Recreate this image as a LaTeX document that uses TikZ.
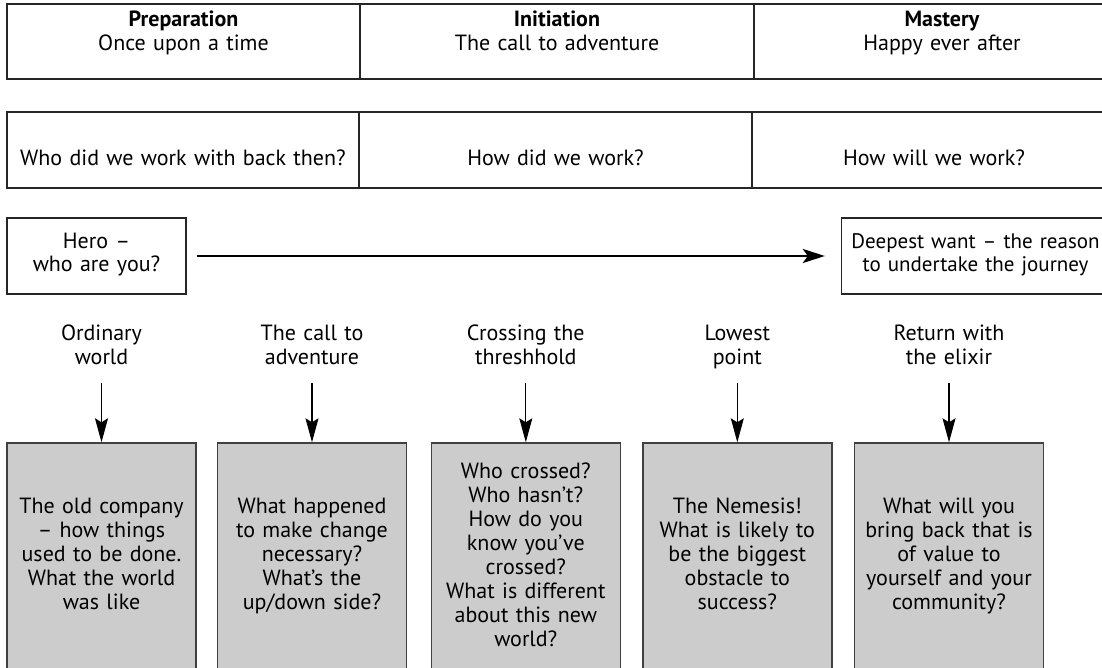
\documentclass[tikz,border=0pt]{standalone}
\usepackage{fontspec}
\setmainfont{PT Sans}
\usetikzlibrary{arrows.meta}

\tikzset{
  every node/.style={font=\fontsize{22}{24}\selectfont, align=center, anchor=base, inner ysep=0pt},
  cell/.style={draw=black!85, line width=1.3pt, inner xsep=6pt},
  stage/.style={draw=black!75, line width=1.4pt, fill=black!20, inner xsep=0pt, text width=189pt},
  step label/.style={inner xsep=0pt, text width=200pt, text depth=43pt},
  journey/.style={line width=2.8pt, -{Stealth[length=22pt,width=14pt,inset=5pt]},
    shorten <=10pt, shorten >=16pt},
  drop/.style={line width=1.1pt, -{Stealth[length=24pt,width=13pt,inset=4pt]}}
}

\begin{document}
\begin{tikzpicture}[x=1pt,y=1pt]
  \useasboundingbox (0,0) rectangle (1102,-668);
  \clip (0,0) rectangle (1102,-668);

  \node[cell, text width=341pt, text height=22.5pt, text depth=52.5pt] (prep) at (183.5,-26.5)
    {\textbf{Preparation}\\Once upon a time};
  \node[cell, text width=382pt, text height=22.5pt, text depth=52.5pt] (init) at (557,-26.5)
    {\textbf{Initiation}\\The call to adventure};
  \node[cell, text width=364pt, text height=22.5pt, text depth=52.5pt] (mast) at (942,-26.5)
    {\textbf{Mastery}\\Happy ever after};

  \node[cell, text width=340pt, text height=54pt, text depth=22pt] (then) at (183,-166)
    {Who did we work with back then?};
  \node[cell, text width=381pt, text height=54pt, text depth=22pt] (how) at (555.5,-166)
    {How did we work?};
  \node[cell, text width=352pt, text height=54pt, text depth=22pt] (will) at (934,-166)
    {How will we work?};

  \node[cell, text width=167pt, text height=30pt, text depth=46pt] (hero) at (96.5,-248)
    {Hero –\\who are you?};
  \node[cell, font=\fontsize{21}{24}\selectfont, inner xsep=3pt, text width=262pt,
    text height=30pt, text depth=46pt] (want) at (975.5,-248)
    {Deepest want – the reason\\to undertake the journey};
  \draw[journey] (hero) -- (want);

  \node[step label] (ordinary) at (101.5,-340) {Ordinary\\world};
  \node[step label] (call) at (312,-340) {The call to\\adventure};
  \node[step label] (crossing) at (525.8,-340) {Crossing the\\threshhold};
  \node[step label] (lowest) at (737.3,-340) {Lowest\\point};
  \node[step label] (return) at (949,-340) {Return with\\the elixir};

  \node[stage, text height=70pt, text depth=177pt] (oldco) at (101.5,-513)
    {The old company\\– how things\\used to be done.\\What the world\\was like};
  \node[stage, text height=70pt, text depth=177pt] (change) at (312,-513)
    {What happened\\to make change\\necessary?\\What’s the\\up/down side?};
  \node[stage, text height=35pt, text depth=212pt] (crossed) at (525.8,-478)
    {Who crossed?\\Who hasn’t?\\How do you\\know you’ve\\crossed?\\What is different\\about this new\\world?};
  \node[stage, text height=70pt, text depth=177pt] (nemesis) at (737.3,-513)
    {The Nemesis!\\What is likely to\\be the biggest\\obstacle to\\success?};
  \node[stage, text height=70pt, text depth=177pt] (elixir) at (949,-513)
    {What will you\\bring back that is\\of value to\\yourself and your\\community?};

  \draw[drop] (ordinary) -- (oldco);
  \draw[drop] (call) -- (change);
  \draw[drop] (crossing) -- (crossed);
  \draw[drop] (lowest) -- (nemesis);
  \draw[drop] (return) -- (elixir);
\end{tikzpicture}
\end{document}
